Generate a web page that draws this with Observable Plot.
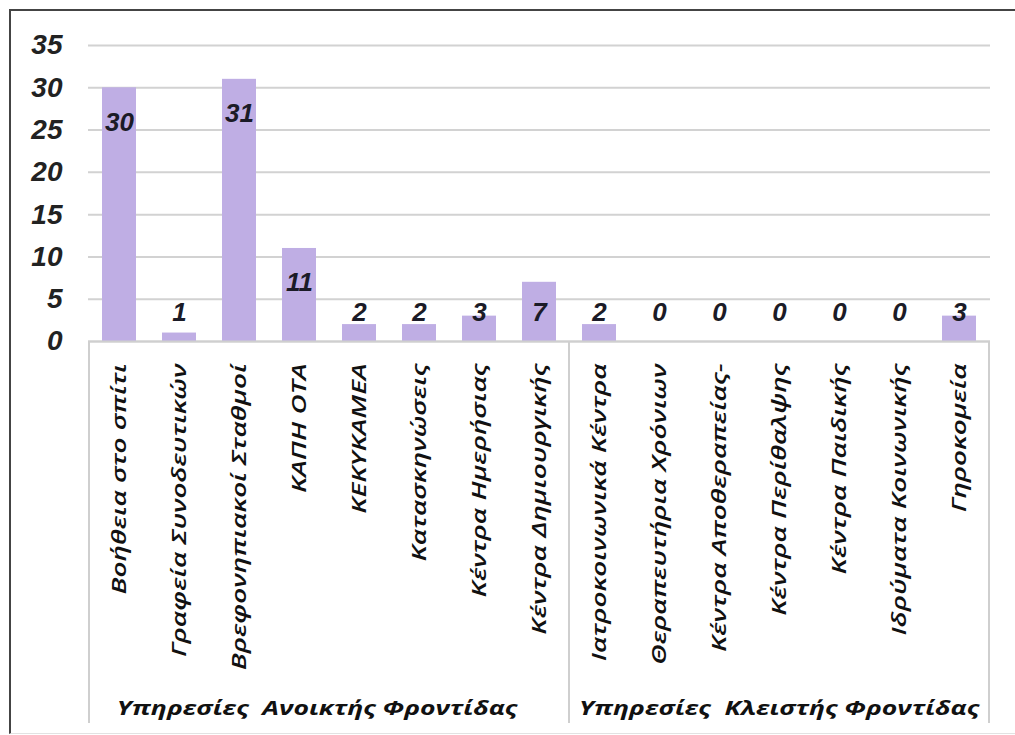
<!DOCTYPE html>
<html>
<head>
<meta charset="utf-8">
<script src="https://cdn.jsdelivr.net/npm/d3@7"></script>
<script src="https://cdn.jsdelivr.net/npm/@observablehq/plot@0.6"></script>
<style>
  html, body { margin: 0; padding: 0; background: #fff; overflow: hidden; }
  #frame {
    position: absolute; left: 9px; top: 9px; width: 1100px; height: 722px;
    border-top: 2.5px solid #444; border-left: 2.5px solid #444;
    border-bottom: 1px solid #e2e2e2;
    pointer-events: none;
  }
  #chart { position: absolute; left: 0; top: 0; }
</style>
</head>
<body>
<div id="chart"></div>
<div id="frame"></div>
<script>
// Social-care service units by type
const categories = [
  "Βοήθεια στο σπίτι",
  "Γραφεία Συνοδευτικών",
  "Βρεφονηπιακοί Σταθμοί",
  "ΚΑΠΗ ΟΤΑ",
  "ΚΕΚΥΚΑΜΕΑ",
  "Κατασκηνώσεις",
  "Κέντρα Ημερήσιας",
  "Κέντρα Δημιουργικής",
  "Ιατροκοινωνικά Κέντρα",
  "Θεραπευτήρια Χρόνιων",
  "Κέντρα Αποθεραπείας-",
  "Κέντρα Περίθαλψης",
  "Κέντρα Παιδικής",
  "Ιδρύματα Κοινωνικής",
  "Γηροκομεία"
];
const values = [30, 1, 31, 11, 2, 2, 3, 7, 2, 0, 0, 0, 0, 0, 3];
const groupNames = ["Υπηρεσίες  Ανοικτής Φροντίδας", "Υπηρεσίες  Κλειστής Φροντίδας"];
const groupSizes = [8, 7];
const yTicks = [0, 5, 10, 15, 20, 25, 30, 35];

const data = categories.map((c, i) => ({category: c, value: values[i]}));

const W = 1015, H = 735;
const plot = Plot.plot({
  width: W,
  height: H,
  marginLeft: 88,
  marginRight: 25,
  marginTop: 45,
  marginBottom: 394,
  style: {background: "transparent", overflow: "visible"},
  x: {domain: categories, paddingInner: 0.43, paddingOuter: 0.215},
  y: {domain: [0, 35]},
  marks: [
    Plot.ruleY(yTicks, {stroke: "#d2d2d2", strokeWidth: 2}),
    Plot.barY(data, {x: "category", y: "value", fill: "#bfaee4"}),
    Plot.ruleY([0], {stroke: "#cfcfcf", strokeWidth: 2}),
    Plot.text(data, {
      x: "category",
      y: d => Math.max(d.value - 4.1, 3.45),
      text: d => String(d.value),
      fontSize: 26,
      fontWeight: "bold",
      fontStyle: "italic",
      fontFamily: "Liberation Sans, Arial, sans-serif",
      fill: "#1b1b27"
    }),
    Plot.axisY({
      ticks: yTicks,
      tickSize: 0,
      tickPadding: 26,
      fontSize: 28,
      fontWeight: "bold",
      fontStyle: "italic",
      fontFamily: "Liberation Sans, Arial, sans-serif",
      fill: "#222",
      label: null
    }),
    Plot.axisX({
      tickSize: 0,
      tickPadding: 22,
      tickRotate: -90,
      fontSize: 19,
      fontWeight: 600,
      fontStyle: "italic",
      fontFamily: "Open Sans, sans-serif",
      fill: "#111",
      label: null
    })
  ]
});
document.getElementById("chart").appendChild(plot);

const svg = d3.select(plot);

// Widen the category labels along their reading direction
const tickLabels = svg.selectAll('g[aria-label="x-axis tick label"] text');
const firstLen = tickLabels.nodes()[0].getComputedTextLength();
const stretch = 231 / firstLen;
tickLabels.attr("transform", function () {
  return this.getAttribute("transform") + ` scale(${stretch},1)`;
});

// Group separators and group titles below the category labels
const xs = plot.scale("x");
const y = plot.scale("y");
const half = (xs.step - xs.bandwidth) / 2;
const bandStart = c => xs.apply(c) - half;
const bandEnd = c => xs.apply(c) + xs.bandwidth + half;
const y0 = y.apply(0);
const g = svg.append("g").attr("aria-label", "groups");
let start = 0;
const edges = [bandStart(categories[0])];
const centers = [];
groupSizes.forEach(n => {
  const a = bandStart(categories[start]);
  const b = bandEnd(categories[start + n - 1]);
  edges.push(b);
  centers.push((a + b) / 2);
  start += n;
});
edges.forEach(x => {
  g.append("line")
    .attr("x1", x).attr("x2", x)
    .attr("y1", y0).attr("y2", y0 + 382)
    .attr("stroke", "#cfcfcf").attr("stroke-width", 2);
});
const titles = groupNames.map((name, i) =>
  g.append("text")
    .attr("text-anchor", "middle")
    .attr("dy", "0.35em")
    .style("white-space", "pre")
    .attr("font-family", "Open Sans, sans-serif")
    .attr("font-size", 20)
    .attr("font-weight", "bold")
    .attr("font-style", "italic")
    .attr("fill", "#111")
    .text(name)
);
const titleStretch = 400 / titles[1].node().getComputedTextLength();
titles.forEach((t, i) => {
  t.attr("transform", `translate(${centers[i] - (i === 0 ? 12 : 0)},${y0 + 367}) scale(${titleStretch},1)`);
});
</script>
</body>
</html>
